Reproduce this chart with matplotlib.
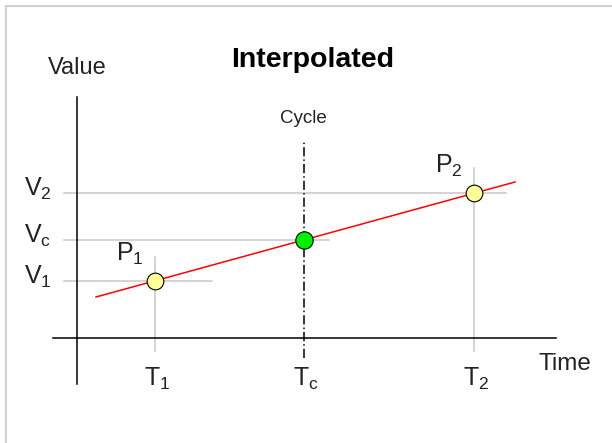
import matplotlib.pyplot as plt

# Points on the chart (time, value), axes origin at the crossing of the two axis lines
times = [78, 227, 397]          # T1, Tc, T2
values = [57, 98, 145]          # V1, Vc, V2
time_labels = ['$\\mathregular{T_1}$', '$\\mathregular{T_c}$', '$\\mathregular{T_2}$']
value_labels = ['$\\mathregular{V_1}$', '$\\mathregular{V_c}$', '$\\mathregular{V_2}$']
point_labels = ['$\\mathregular{P_1}$', '', '$\\mathregular{P_2}$']

# Red interpolation line, drawn a bit past both known points
line_t = [19, 438]
line_v = [41, 156]

plt.rcParams['font.family'] = ['Liberation Sans', 'DejaVu Sans']

fig = plt.figure(figsize=(6.12, 4.43), dpi=100)
ax = fig.add_axes([0, 0, 1, 1])
ax.set_xlim(-77, 535)
ax.set_ylim(-105, 338)
ax.axis('off')

guide = '#c8c8c8'

# Light frame around the picture
ax.plot([5.5 / 612, 1], [1 - 5.5 / 443] * 2, transform=ax.transAxes, color='#d2d2d2', lw=1.5)
ax.plot([5.5 / 612] * 2, [0, 1 - 5.5 / 443], transform=ax.transAxes, color='#d2d2d2', lw=1.5)

# Axes
ax.plot([-24, 479], [0, 0], color='black', lw=1.1, zorder=3)
ax.plot([0, 0], [-46, 241], color='black', lw=1.1, zorder=3)

# Horizontal guides from the value axis to (past) each point
h_ends = [135, 252, 429]
for v, xe in zip(values, h_ends):
    ax.plot([-13, xe], [v, v], color=guide, lw=1.1, zorder=1)

# Vertical guides for the known points
ax.plot([times[0], times[0]], [-13, 81], color=guide, lw=1.1, zorder=1)
ax.plot([times[2], times[2]], [-13, 170], color=guide, lw=1.1, zorder=1)

# Cycle line (dash-dot)
ax.plot([times[1], times[1]], [-20, 198], color='black', lw=1.1,
        linestyle=(0, (6, 2, 1, 2)), zorder=2)

# Interpolation line
ax.plot(line_t, line_v, color='#ff0000', lw=1.1, zorder=4)

# Points
ax.plot([times[0], times[2]], [values[0], values[2]], 'o', ms=12, mfc='#ffff99',
        mec='black', mew=0.8, zorder=5)
ax.plot([times[1]], [values[1]], 'o', ms=12.5, mfc='#00ee00', mec='black', mew=0.8, zorder=5)

# Labels
txt = '#222222'
for t, lab in zip(times, time_labels):
    ax.text(t + 2, -41, lab, fontsize=18, ha='center', va='center', color=txt)
for v, lab in zip(values, value_labels):
    ax.text(-39, v + 4, lab, fontsize=18, ha='center', va='center', color=txt)
for t, v, lab in zip(times, values, point_labels):
    if lab:
        ax.text(t - 25, v + 27, lab, fontsize=18, ha='center', va='center', color=txt)

ax.text(0, 270.5, 'Value', fontsize=17, ha='center', va='center', color=txt)
ax.text(488, -26.5, 'Time', fontsize=17.5, ha='center', va='center', color=txt)
ax.text(times[1] - 1, 220, 'Cycle', fontsize=13.5, ha='center', va='center', color=txt)
ax.text(236, 271.3, 'Interpolated', fontsize=20.5, fontweight='bold', ha='center',
        va='baseline', color='black')

fig.savefig('out.png', dpi=100)
